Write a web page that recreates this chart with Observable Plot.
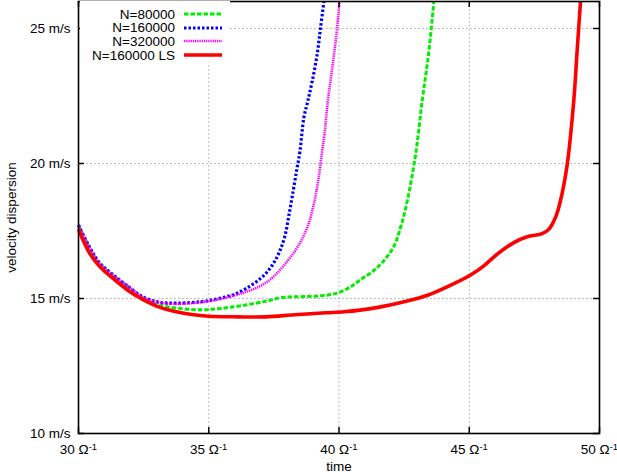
<!DOCTYPE html>
<html><head><meta charset="utf-8">
<script src="https://cdn.jsdelivr.net/npm/d3@7"></script>
<script src="https://cdn.jsdelivr.net/npm/@observablehq/plot@0.6"></script>
<style>
body{margin:0;background:#fff;}
#wrap{position:relative;width:617px;height:472px;font-family:"Liberation Sans",Arial,Helvetica,sans-serif;}
#legend{position:absolute;left:80px;top:1px;width:150px;height:61px;background:#fff;}
.row{position:absolute;left:0;width:150px;height:14px;font-size:13.5px;}
.row span{position:absolute;right:55px;top:0.5px;white-space:nowrap;line-height:14px;}
.row svg{position:absolute;left:104px;top:0;}
</style>
</head><body>
<div id="wrap"><div id="legend"></div></div>
<script>
// ---- data ----
const seriesNames = ["N=80000", "N=160000", "N=320000", "N=160000 LS"];
const seriesColors = ["#00ee00", "#0000ff", "#ff00ff", "#ff0000"];
const seriesDash = ["4.5,2", "2.5,2", "1.3,0.9", "none"];
const seriesWidth = [3, 3.2, 2.6, 3.6];

const t80 = [30, 30.4, 30.8, 31.3, 31.9, 32.5, 33.1, 33.8, 34.7, 35.45, 36.35, 37.24, 37.75, 38.26, 39.29, 39.93, 40.44, 40.83, 41.34, 41.72, 42.1, 42.36, 42.62, 42.94, 43.19, 43.45, 43.64];
const v80 = [17.7, 16.92, 16.3, 15.86, 15.42, 14.95, 14.75, 14.64, 14.58, 14.63, 14.75, 14.91, 15.03, 15.06, 15.1, 15.2, 15.43, 15.7, 16.04, 16.4, 16.92, 17.62, 18.61, 20.33, 22.3, 24.15, 26];

const t160 = [30, 30.4, 30.8, 31.3, 31.9, 32.5, 33.1, 33.8, 34.7, 35.3, 36.0, 36.6, 37.1, 37.45, 37.7, 37.92, 38.08, 38.24, 38.37, 38.5, 38.65, 38.8, 38.97, 39.16, 39.29, 39.42];
const v160 = [17.72, 16.95, 16.33, 15.9, 15.45, 15.05, 14.86, 14.83, 14.88, 14.98, 15.16, 15.47, 15.84, 16.25, 16.7, 17.3, 18.1, 18.98, 19.72, 20.45, 21.69, 22.3, 23.04, 24.03, 25.01, 26];

const t320 = [30, 30.4, 30.8, 31.3, 31.9, 32.5, 33.1, 33.8, 34.5, 35.07, 35.71, 36.35, 37.0, 37.45, 37.88, 38.39, 38.78, 39.03, 39.22, 39.35, 39.44, 39.57, 39.74, 39.9, 40.02];
const v320 = [17.7, 16.93, 16.31, 15.88, 15.45, 15.03, 14.85, 14.8, 14.84, 14.91, 15.04, 15.22, 15.47, 15.78, 16.22, 16.88, 17.62, 18.49, 19.48, 20.45, 21.07, 22.3, 23.54, 24.77, 26];

const tLS = [30, 30.4, 30.8, 31.3, 31.9, 32.5, 33.1, 33.8, 34.5, 35.0, 36.1, 37.2, 38.3, 39.5, 40.2, 40.8, 41.6, 42.5, 43.4, 44.15, 45.05, 45.56, 46.07, 46.71, 47.22, 47.8, 48.05, 48.31, 48.5, 48.76, 49.01, 49.14, 49.27];
const vLS = [17.56, 16.72, 16.2, 15.76, 15.3, 14.95, 14.68, 14.5, 14.39, 14.34, 14.32, 14.32, 14.4, 14.47, 14.51, 14.57, 14.69, 14.88, 15.12, 15.43, 15.87, 16.21, 16.64, 17.07, 17.29, 17.4, 17.56, 18.0, 18.61, 19.96, 22.3, 24.15, 26];

const xTicks = [30, 35, 40, 45, 50];
const yTicks = [10, 15, 20, 25];
const xGrid = [35, 40, 45];
const yGrid = [15, 20, 25];

// ---- build ----
const seriesT = [t80, t160, t320, tLS];
const seriesV = [v80, v160, v320, vLS];
const seriesData = seriesT.map((ts, i) => ts.map((t, j) => ({t, v: seriesV[i][j]})));

const W = 617, H = 472, mL = 78, mR = 18, mT = 1, mB = 39;
const pW = W - mL - mR, pH = H - mT - mB, tick = 6;
const font = '"Liberation Sans", Arial, Helvetica, sans-serif';

const lineMarks = seriesData.map((d, i) => Plot.line(d, {
  x: "t", y: "v", stroke: seriesColors[i], strokeWidth: seriesWidth[i],
  curve: "catmull-rom"
}));

const chart = Plot.plot({
  width: W, height: H, marginLeft: mL, marginRight: mR, marginTop: mT, marginBottom: mB,
  style: {fontFamily: font, fontSize: "13.5px", color: "black", background: "white", overflow: "visible"},
  x: {domain: [30, 50]},
  y: {domain: [10, 26]},
  marks: [
    Plot.ruleX(xGrid, {stroke: "#a8a8a8", strokeDasharray: "1.5,2.5", strokeWidth: 1}),
    Plot.ruleY(yGrid, {stroke: "#a8a8a8", strokeDasharray: "1.5,2.5", strokeWidth: 1}),
    ...lineMarks,
    Plot.ruleX(xTicks, {stroke: "black", strokeWidth: 1.5, insetTop: pH - tick}),
    Plot.ruleX(xTicks, {stroke: "black", strokeWidth: 1.5, insetBottom: pH - tick}),
    Plot.ruleY(yTicks, {stroke: "black", strokeWidth: 1.5, insetRight: pW - tick}),
    Plot.ruleY(yTicks, {stroke: "black", strokeWidth: 1.5, insetLeft: pW - tick}),
    Plot.axisX({ticks: xTicks, tickSize: 0, tickPadding: 11, tickFormat: d => `${d} Ω`,
      label: "time", labelAnchor: "center", labelOffset: 37, labelArrow: "none"}),
    Plot.axisY({ticks: yTicks, tickSize: 0, tickPadding: 8, tickFormat: d => `${d} m/s`,
      label: "velocity dispersion", labelAnchor: "center", labelOffset: 72, labelArrow: "none"}),
    Plot.frame({stroke: "black", strokeWidth: 1.6})
  ]
});

// dash patterns on the series paths (in mark order)
const seriesPaths = d3.select(chart).selectAll('g[aria-label="line"] path').nodes();
seriesPaths.forEach((p, i) => {
  if (i < seriesDash.length) {
    p.setAttribute("stroke-dasharray", seriesDash[i]);
    p.style.strokeDasharray = seriesDash[i];
    p.style.strokeLinecap = "butt";
  }
});

// superscript -1 on x tick labels
d3.select(chart).selectAll('g[aria-label="x-axis tick label"] text').each(function() {
  d3.select(this).append("tspan").attr("dy", "-0.45em").attr("font-size", "9.5px").text("-1");
});

document.getElementById("wrap").prepend(chart);

// legend
const legend = document.getElementById("legend");
seriesNames.forEach((name, i) => {
  const row = document.createElement("div");
  row.className = "row";
  row.style.top = (6 + i * 13.7) + "px";
  const dash = seriesDash[i] !== "none" ? `stroke-dasharray="${seriesDash[i]}"` : "";
  row.innerHTML = `<span>${name}</span><svg width="40" height="14"><line x1="0" x2="38" y1="7" y2="7" stroke="${seriesColors[i]}" stroke-width="${seriesWidth[i]}" ${dash}/></svg>`;
  legend.appendChild(row);
});
</script>
</body></html>
